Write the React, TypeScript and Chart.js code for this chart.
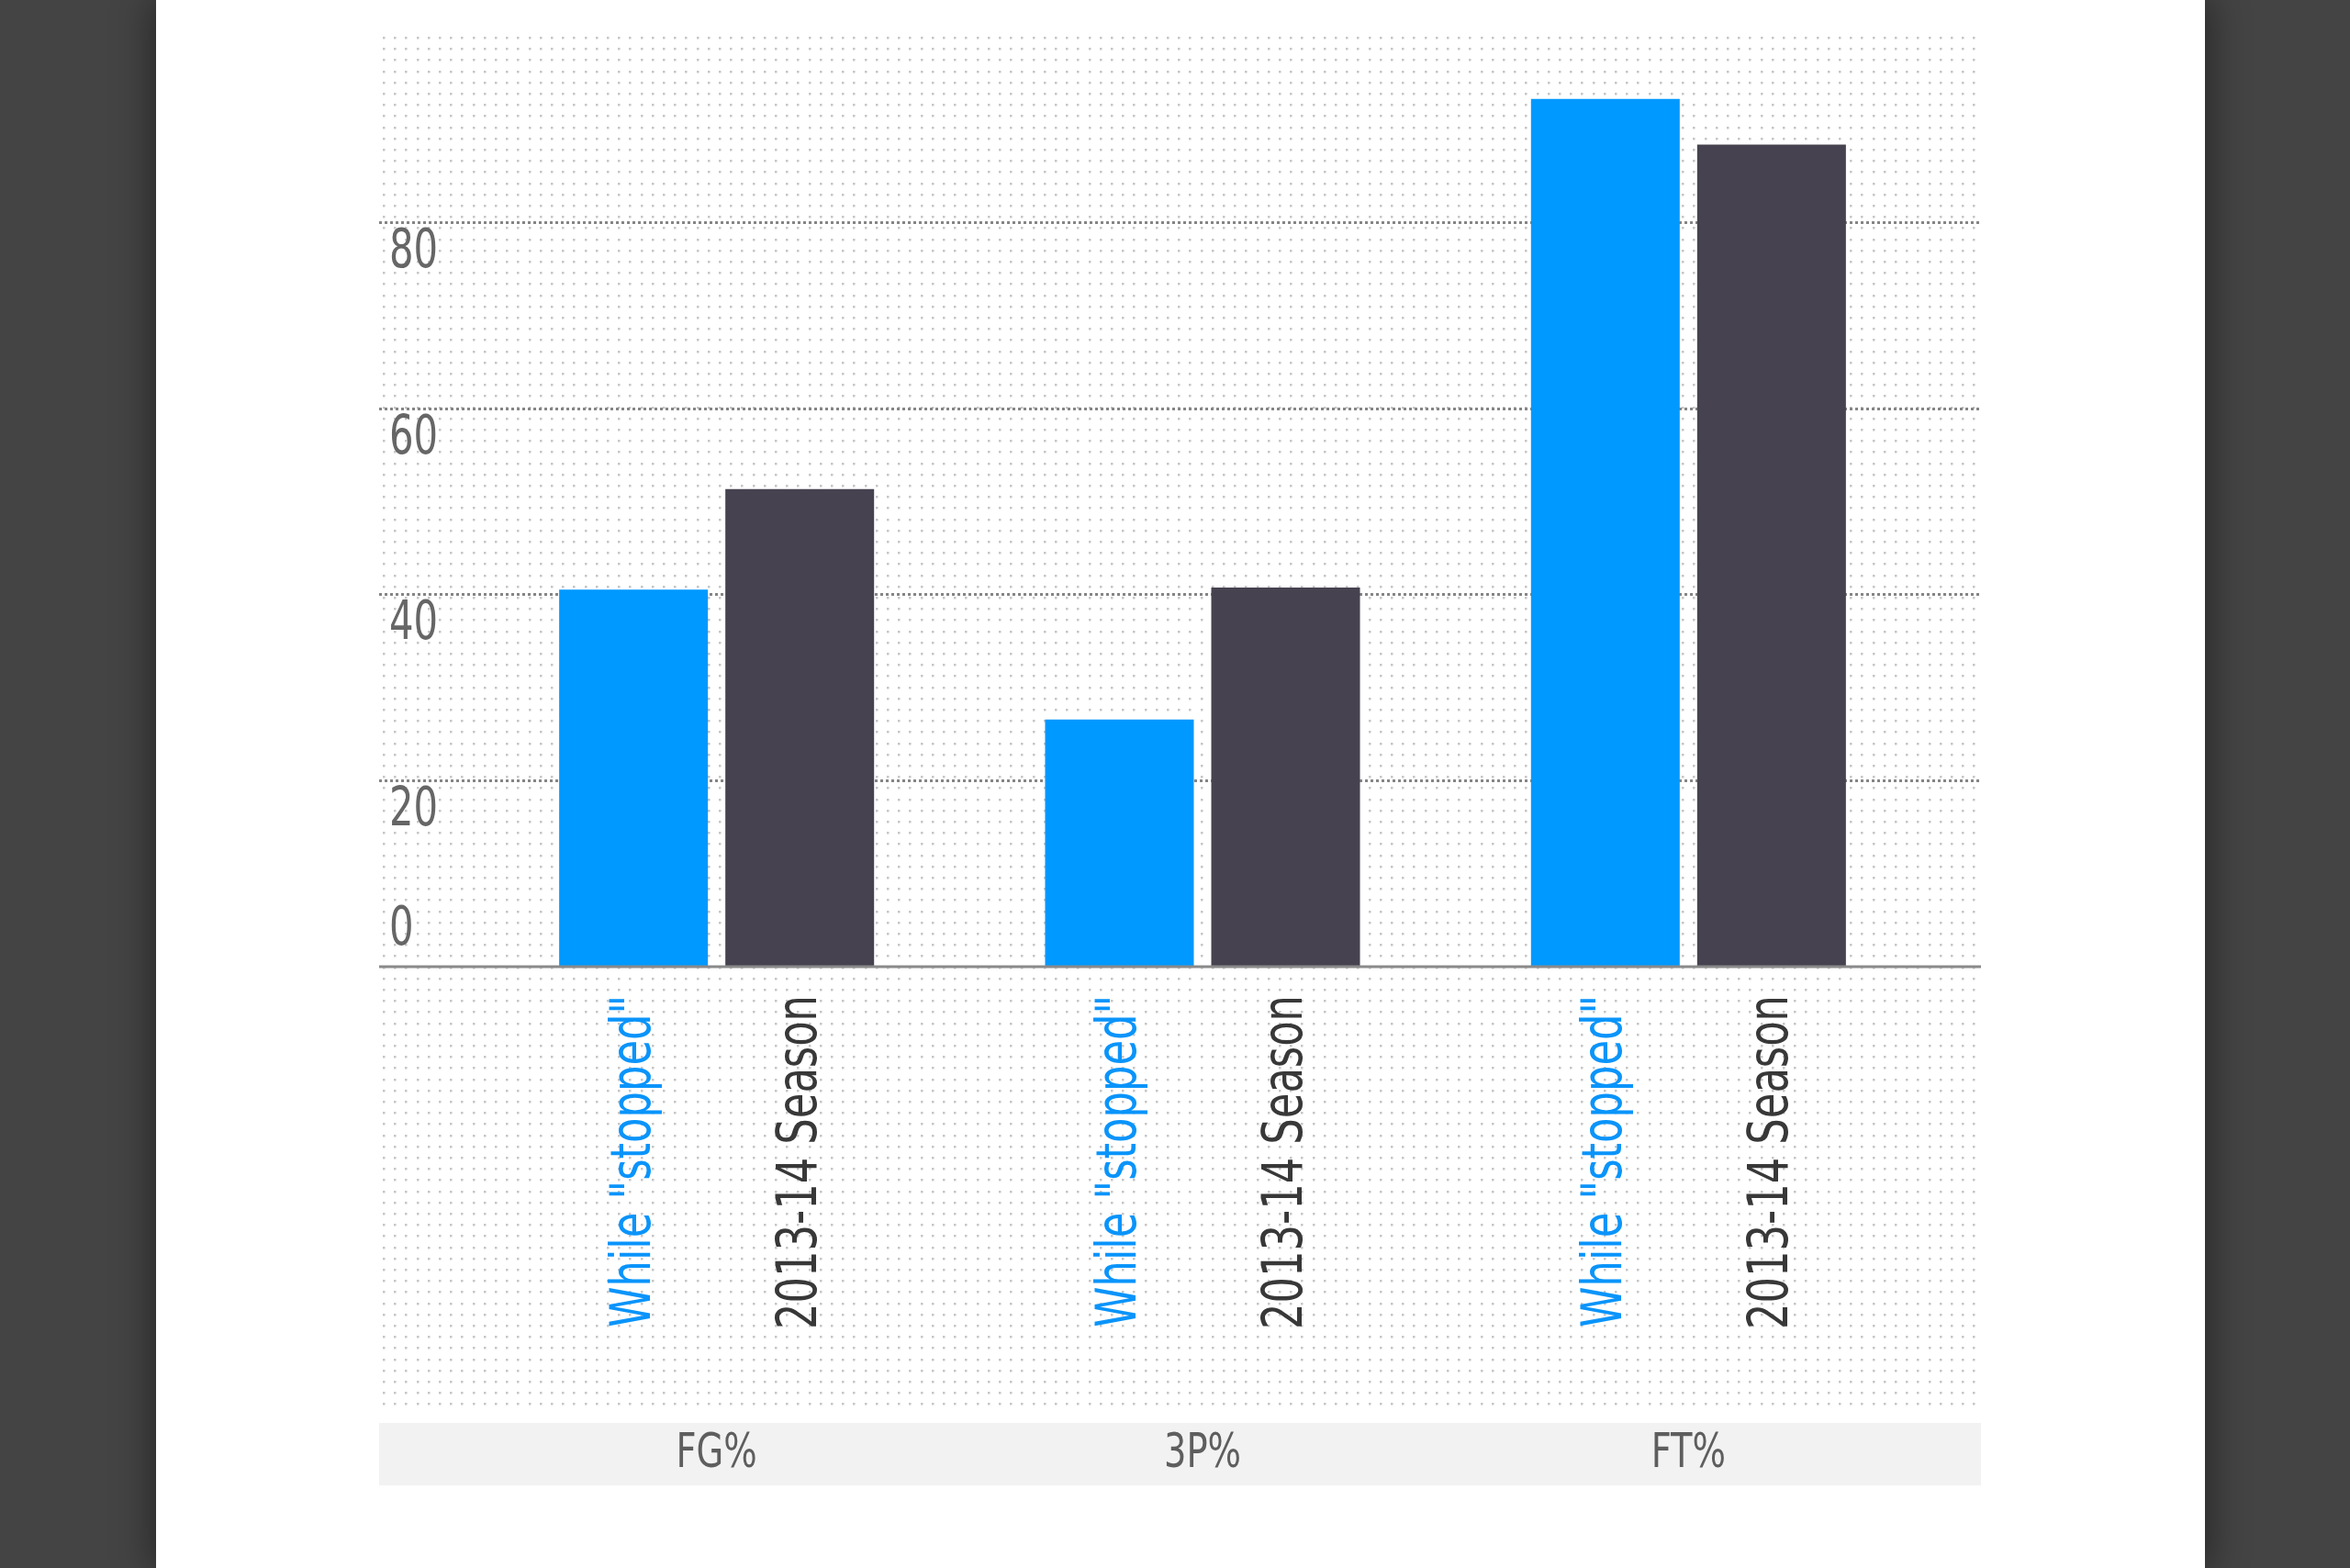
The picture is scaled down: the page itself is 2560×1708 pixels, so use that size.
import React, { useEffect, useRef } from "react";
import Chart from "chart.js/auto";

const categories = ["FG%", "3P%", "FT%"];
const seriesNames = ['While "stopped"', "2013-14 Season"];
const stoppedValues = [40.5, 26.5, 93.3];
const seasonValues = [51.3, 40.7, 88.4];
const yTicks = [0, 20, 40, 60, 80];

const BLUE = "#0099ff";
const DARK = "#46424f";
const LABEL_COLORS = ["#0a94fa", "#383838"];
const FONT = "'DejaVu Sans Condensed', 'DejaVu Sans', sans-serif";

// plot frame (the dotted panel is wider than the bar area)
const FRAME = { left: 413, right: 2158, top: 36, bottom: 1540 };
const BAND = { top: 1550, height: 68 };

// narrow text: the original uses a condensed face, so squeeze horizontally
function narrowText(ctx: CanvasRenderingContext2D, text: string, x: number, y: number, sx: number) {
  ctx.save();
  ctx.translate(x, y);
  ctx.scale(sx, 1);
  ctx.fillText(text, 0, 0);
  ctx.restore();
}

const backdrop = {
  id: "backdrop",
  beforeDatasetsDraw(chart: any) {
    const { ctx } = chart;
    const y = chart.scales.y;
    ctx.save();
    // dotted texture
    ctx.fillStyle = "#c6c6c6";
    for (let py = FRAME.top + 4; py < FRAME.bottom; py += 12.2) {
      for (let px = FRAME.left + 4; px < FRAME.right; px += 12.2) {
        ctx.fillRect(Math.round(px), Math.round(py), 2.5, 2.5);
      }
    }
    // dotted grid lines
    ctx.strokeStyle = "#858585";
    ctx.lineWidth = 3;
    ctx.setLineDash([3, 3]);
    yTicks.forEach((t) => {
      if (t === 0) return;
      const py = Math.round(y.getPixelForValue(t)) + 0.5;
      ctx.beginPath();
      ctx.moveTo(FRAME.left, py);
      ctx.lineTo(FRAME.right, py);
      ctx.stroke();
    });
    ctx.setLineDash([]);
    // category band
    ctx.fillStyle = "#f2f2f2";
    ctx.fillRect(FRAME.left, BAND.top, FRAME.right - FRAME.left, BAND.height);
    ctx.restore();
  },
  afterDatasetsDraw(chart: any) {
    const { ctx } = chart;
    const x = chart.scales.x;
    const y = chart.scales.y;
    const base = y.getPixelForValue(0);
    ctx.save();
    // base line
    ctx.strokeStyle = "#8a8a8a";
    ctx.lineWidth = 3;
    ctx.beginPath();
    ctx.moveTo(FRAME.left, base + 1);
    ctx.lineTo(FRAME.right, base + 1);
    ctx.stroke();

    // y tick labels inside the panel
    ctx.fillStyle = "#666666";
    ctx.font = `58px ${FONT}`;
    ctx.textAlign = "left";
    ctx.textBaseline = "middle";
    yTicks.forEach((t) => {
      const py = y.getPixelForValue(t);
      narrowText(ctx, String(t), 424, t === 0 ? py - 38 : py + 34, 0.8);
    });

    // rotated series labels under each bar
    ctx.font = `60px ${FONT}`;
    chart.data.datasets.forEach((ds: any, i: number) => {
      const meta = chart.getDatasetMeta(i);
      meta.data.forEach((bar: any) => {
        ctx.save();
        ctx.translate(bar.x, base + 32);
        ctx.rotate(-Math.PI / 2);
        ctx.fillStyle = LABEL_COLORS[i];
        ctx.textAlign = "right";
        ctx.textBaseline = "middle";
        narrowText(ctx, ds.label, 0, 2, 0.83);
        ctx.restore();
      });
    });

    // category labels in the band
    ctx.fillStyle = "#5e5e5e";
    ctx.font = `52px ${FONT}`;
    ctx.textAlign = "center";
    ctx.textBaseline = "middle";
    categories.forEach((c, j) => {
      narrowText(ctx, c, x.getPixelForValue(j), BAND.top + BAND.height / 2, 0.82);
    });
    ctx.restore();
  },
};

const StoppedChart: React.FC = () => {
  const canvasRef = useRef<HTMLCanvasElement>(null);
  const chartRef = useRef<Chart | null>(null);

  useEffect(() => {
    if (!canvasRef.current) return;
    const ctx = canvasRef.current.getContext("2d");
    if (!ctx) return;

    chartRef.current = new Chart(ctx, {
      type: "bar",
      data: {
        labels: categories,
        datasets: [
          { label: seriesNames[0], data: stoppedValues, backgroundColor: BLUE },
          { label: seriesNames[1], data: seasonValues, backgroundColor: DARK },
        ],
      },
      options: {
        responsive: false,
        animation: false,
        devicePixelRatio: 1,
        layout: { padding: { left: 516, right: 456, top: 40, bottom: 656 } },
        datasets: { bar: { categoryPercentage: 0.684, barPercentage: 0.895, borderWidth: 0 } },
        scales: {
          x: { display: false },
          y: { display: false, min: 0, max: 100 },
        },
        plugins: {
          legend: { display: false },
          tooltip: { enabled: false },
        },
      },
      plugins: [backdrop],
    });

    return () => {
      if (chartRef.current) {
        chartRef.current.destroy();
        chartRef.current = null;
      }
    };
  }, []);

  return (
    <canvas
      ref={canvasRef}
      width={2560}
      height={1708}
      style={{ position: "absolute", left: 0, top: 0, width: 2560, height: 1708 }}
    />
  );
};

export default function App() {
  return (
    <div style={{ position: "fixed", left: 0, top: 0, width: 2560, height: 1708, background: "#444444", overflow: "hidden" }}>
      <div
        style={{
          position: "absolute",
          left: 170,
          top: 0,
          width: 2232,
          height: 1708,
          background: "#ffffff",
          boxShadow: "0 0 40px 4px rgba(0,0,0,0.45)",
        }}
      />
      <StoppedChart />
    </div>
  );
}
